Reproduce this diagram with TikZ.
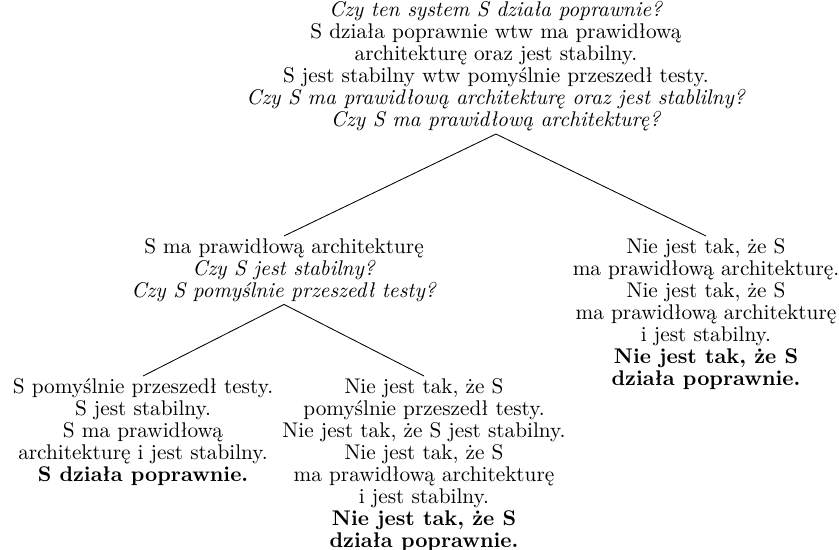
\documentclass[tikz,border=0pt]{standalone}
\usepackage{fontspec}
\begin{document}
\begin{tikzpicture}[every node/.style={align=center,inner sep=1pt,font=\fontsize{10}{10.35}\selectfont}]
\useasboundingbox (0,0) rectangle (13.873,-9.094);
\node[anchor=south](root) at (8.201,-2.216){\textit{Czy ten system S działa poprawnie?}\\
S działa poprawnie wtw ma prawidłową\\
architekturę oraz jest stabilny.\\
S jest stabilny wtw pomyślnie przeszedł testy.\\
\textit{Czy S ma prawidłową architekturę oraz jest stablilny?}\\
\textit{Czy S ma prawidłową architekturę?}};
\node[anchor=north](arch) at (4.696,-3.902){S ma prawidłową architekturę\\
\textit{Czy S jest stabilny?}\\
\textit{Czy S pomyślnie przeszedł testy?}};
\node[anchor=north](noarch) at (11.674,-3.902){Nie jest tak, że S\\
ma prawidłową architekturę.\\
Nie jest tak, że S\\
ma prawidłową architekturę\\
i jest stabilny.\\
\textbf{Nie jest tak, że S}\\
\textbf{działa poprawnie.}};
\node[anchor=north](tests) at (2.365,-6.217){S pomyślnie przeszedł testy.\\
S jest stabilny.\\
S ma prawidłową\\
architekturę i jest stabilny.\\
\textbf{S działa poprawnie.}};
\node[anchor=north](notests) at (7.011,-6.217){Nie jest tak, że S\\
pomyślnie przeszedł testy.\\
Nie jest tak, że S jest stabilny.\\
Nie jest tak, że S\\
ma prawidłową architekturę\\
i jest stabilny.\\
\textbf{Nie jest tak, że S}\\
\textbf{działa poprawnie.}};
\draw(root.south)--(arch.north);
\draw(root.south)--(noarch.north);
\draw(arch.south)--(tests.north);
\draw(arch.south)--(notests.north);
\end{tikzpicture}
\end{document}
